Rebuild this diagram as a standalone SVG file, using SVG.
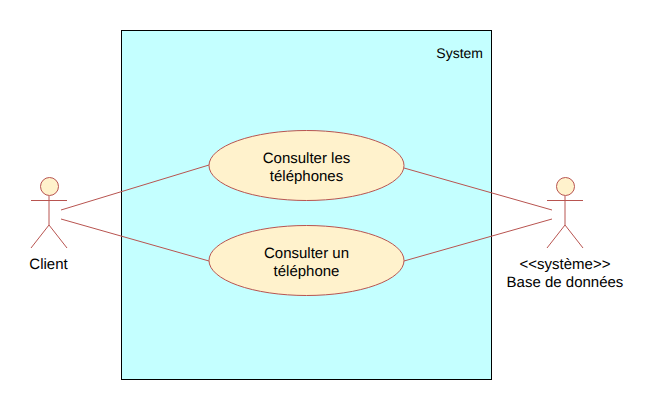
<svg xmlns="http://www.w3.org/2000/svg" width="654" height="410" viewBox="0 0 654 410">
<style>
text{font-family:"Liberation Sans",Arial,sans-serif;font-size:15px;fill:#000;text-rendering:geometricPrecision}
.m{text-anchor:middle}
.s{stroke:#b85450;stroke-width:1;fill:none}
.u{fill:#fff2cc;stroke:#b85450;stroke-width:1}
</style>
<rect width="654" height="410" fill="#fff"/>
<g id="system"><rect x="121.500" y="30.500" width="370" height="349" fill="#c4ffff" stroke="#000" stroke-width="1"/><text x="483" y="58" text-anchor="end" style="font-size:14px">System</text></g>
<g id="connectors">
<path class="s" d="M61 210L209 165M61 219L209 261M404 168L552 210M404 261L552 219"/>
</g>
<g id="client"><circle class="u" cx="49.500" cy="186.500" r="9"/><path class="s" d="M49 196V225M31 200.500H67M49 225L31 248M49 225L67 248"/><text class="m" x="48.500" y="269">Client</text></g>
<g id="database"><circle class="u" cx="565.500" cy="186.500" r="9"/><path class="s" d="M565 196V225M547 200.500H583M565 225L547 248M565 225L583 248"/><text class="m" x="565" y="269">&lt;&lt;système&gt;&gt;</text><text class="m" x="565" y="287">Base de données</text></g>
<g id="uc1"><ellipse class="u" cx="306.500" cy="165.500" rx="97.500" ry="35"/><text class="m" x="306.500" y="163">Consulter les</text><text class="m" x="306.500" y="181">téléphones</text></g>
<g id="uc2"><ellipse class="u" cx="306.500" cy="260.500" rx="97.500" ry="35"/><text class="m" x="306.500" y="258">Consulter un</text><text class="m" x="306.500" y="276">téléphone</text></g>
</svg>
